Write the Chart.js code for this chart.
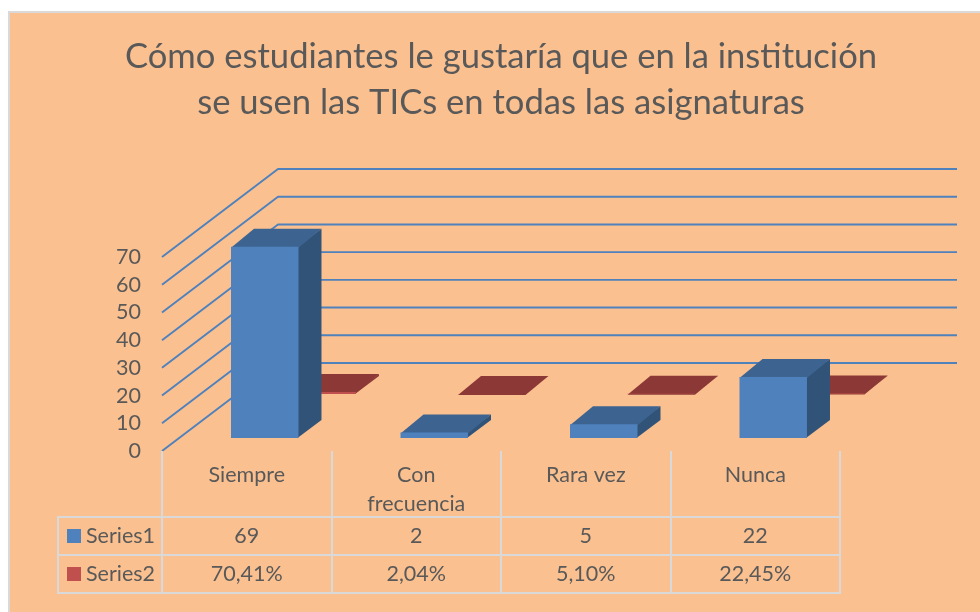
<!DOCTYPE html>
<html lang="es">
<head>
<meta charset="utf-8">
<title>Chart</title>
<script src="https://cdn.jsdelivr.net/npm/chart.js@4"></script>
<style>
html,body{margin:0;padding:0;background:#fff;overflow:hidden}
canvas{display:block}
</style>
</head>
<body>
<canvas id="c" width="980" height="612"></canvas>
<script>
const titleLines = ['Cómo estudiantes le gustaría que en la institución', 'se usen las TICs en todas las asignaturas'];
const categories = ['Siempre', ['Con', 'frecuencia'], 'Rara vez', 'Nunca'];
const series1 = [69, 2, 5, 22];
const series2 = [0.7041, 0.0204, 0.0510, 0.2245];
const seriesNames = ['Series1', 'Series2'];
const yTickMax = 70;
const yTickStep = 10;

const FONT = 'Lato, Carlito, sans-serif';
const TEXT = '#595959';
const TABLE_FONT = 21.5;

// Pseudo-3D projection settings, per dataset
const looks = [
  {dx: 18, dy: -13, front: '#4f81bd', top: '#3d6490', side: '#315378'},
  {dx: 75.5, dy: -57, front: '#c0504d', top: '#8c3836', side: '#8c3836'}
];
const depth = {dx: 23, dy: -18};
const wall = {dx: 116, dy: -88, right: 957};
const table = {left: 58, rowTop: 517, rowH: 38, keyRight: 162};

function poly(ctx, pts, fill) {
  ctx.beginPath();
  pts.forEach((p, i) => i ? ctx.lineTo(p[0], p[1]) : ctx.moveTo(p[0], p[1]));
  ctx.closePath();
  ctx.fillStyle = fill;
  ctx.fill();
}

const scene = {
  id: 'scene',
  beforeDraw(chart) {
    const ctx = chart.ctx;
    ctx.save();
    ctx.fillStyle = '#fff';
    ctx.fillRect(0, 0, 980, 612);
    ctx.fillStyle = '#d9d9d9';
    ctx.fillRect(8, 11, 972, 601);
    ctx.fillStyle = '#fbc08f';
    ctx.fillRect(10, 13, 970, 599);
    ctx.restore();
  },
  beforeDatasetsDraw(chart) {
    const ctx = chart.ctx, y = chart.scales.y, a = chart.chartArea;
    ctx.save();
    ctx.strokeStyle = '#4f81bd';
    ctx.lineWidth = 1.9;
    ctx.lineJoin = 'round';
    y.ticks.forEach(t => {
      const py = y.getPixelForValue(t.value);
      ctx.beginPath();
      ctx.moveTo(a.left, py);
      ctx.lineTo(a.left + wall.dx, py + wall.dy);
      ctx.lineTo(wall.right, py + wall.dy);
      ctx.stroke();
    });
    ctx.restore();
  },
  beforeDatasetDraw(chart, args) {
    const ctx = chart.ctx, look = looks[args.index];
    ctx.save();
    ctx.translate(look.dx, look.dy);
    args.meta.data.forEach(bar => {
      const p = bar.getProps(['x', 'y', 'base', 'width'], true);
      const l = p.x - p.width / 2, r = p.x + p.width / 2;
      // Both faces start one pixel under the front face so no seam shows.
      poly(ctx, [[r - 1, p.y], [r + depth.dx, p.y + depth.dy], [r + depth.dx, p.base + depth.dy], [r - 1, p.base]], look.side);
      poly(ctx, [[l, p.y + 1], [l + depth.dx, p.y + depth.dy], [r + depth.dx, p.y + depth.dy], [r, p.y + 1]], look.top);
    });
  },
  afterDatasetDraw(chart) {
    chart.ctx.restore();
  },
  afterDraw(chart) {
    const ctx = chart.ctx, x = chart.scales.x, a = chart.chartArea;
    const n = categories.length;
    const rows = [series1.map(String), series2.map(v => (v * 100).toFixed(2).replace('.', ',') + '%')];
    const bottom = table.rowTop + table.rowH * 2;
    const cell = x.width / n;
    ctx.save();
    ctx.strokeStyle = '#d9d9d9';
    ctx.lineWidth = 2;
    for (let i = 0; i <= n; i++) {
      const px = Math.round(a.left + cell * i);
      ctx.beginPath(); ctx.moveTo(px, a.bottom); ctx.lineTo(px, bottom); ctx.stroke();
    }
    ctx.beginPath(); ctx.moveTo(table.left, table.rowTop); ctx.lineTo(table.left, bottom); ctx.stroke();
    for (let r = 0; r <= 2; r++) {
      const py = table.rowTop + table.rowH * r;
      ctx.beginPath(); ctx.moveTo(table.left - 1, py); ctx.lineTo(a.right + 1, py); ctx.stroke();
    }
    ctx.font = TABLE_FONT + 'px ' + FONT;
    ctx.textBaseline = 'middle';
    rows.forEach((vals, r) => {
      const cy = table.rowTop + table.rowH * r + table.rowH / 2;
      ctx.fillStyle = looks[r].front;
      ctx.fillRect(67, Math.round(cy - 7), 14, 14);
      ctx.fillStyle = TEXT;
      ctx.textAlign = 'left';
      ctx.fillText(seriesNames[r], 86, cy);
      ctx.textAlign = 'center';
      vals.forEach((v, i) => ctx.fillText(v, x.getPixelForValue(i), cy));
    });
    ctx.restore();
  }
};

new Chart(document.getElementById('c'), {
  type: 'bar',
  data: {
    labels: categories,
    datasets: [
      {label: seriesNames[0], data: series1, backgroundColor: looks[0].front, yAxisID: 'y', clip: false},
      {label: seriesNames[1], data: series2, backgroundColor: looks[1].front, yAxisID: 'y', clip: false}
    ]
  },
  options: {
    responsive: false,
    animation: false,
    events: [],
    datasets: {bar: {grouped: false, barPercentage: 0.398, categoryPercentage: 1}},
    layout: {padding: {left: 22, right: 0, top: 0, bottom: 0}},
    plugins: {
      legend: {display: false},
      tooltip: {enabled: false},
      title: {
        display: true,
        text: titleLines,
        color: TEXT,
        font: {family: FONT, size: 34.6, weight: 'normal', lineHeight: '46px'},
        padding: {top: 34, bottom: 131}
      }
    },
    scales: {
      x: {
        type: 'category',
        grid: {display: false},
        border: {display: false},
        afterFit(s) { s.height = 161; },
        ticks: {
          color: TEXT, autoSkip: false, maxRotation: 0, minRotation: 0, padding: 2,
          font: {family: FONT, size: TABLE_FONT, lineHeight: '29px'}
        }
      },
      y: {
        type: 'linear',
        min: 0,
        max: yTickMax,
        position: 'left',
        grid: {display: false, drawTicks: false},
        border: {display: false},
        afterFit(s) { s.width = 140; },
        ticks: {
          color: TEXT, stepSize: yTickStep, padding: 21, autoSkip: false,
          font: {family: FONT, size: TABLE_FONT}
        }
      },
      spacer: {
        type: 'linear',
        min: 0,
        max: 1,
        position: 'right',
        grid: {display: false},
        border: {display: false},
        ticks: {display: false},
        afterFit(s) { s.width = 140; }
      }
    }
  },
  plugins: [scene]
});
</script>
</body>
</html>
